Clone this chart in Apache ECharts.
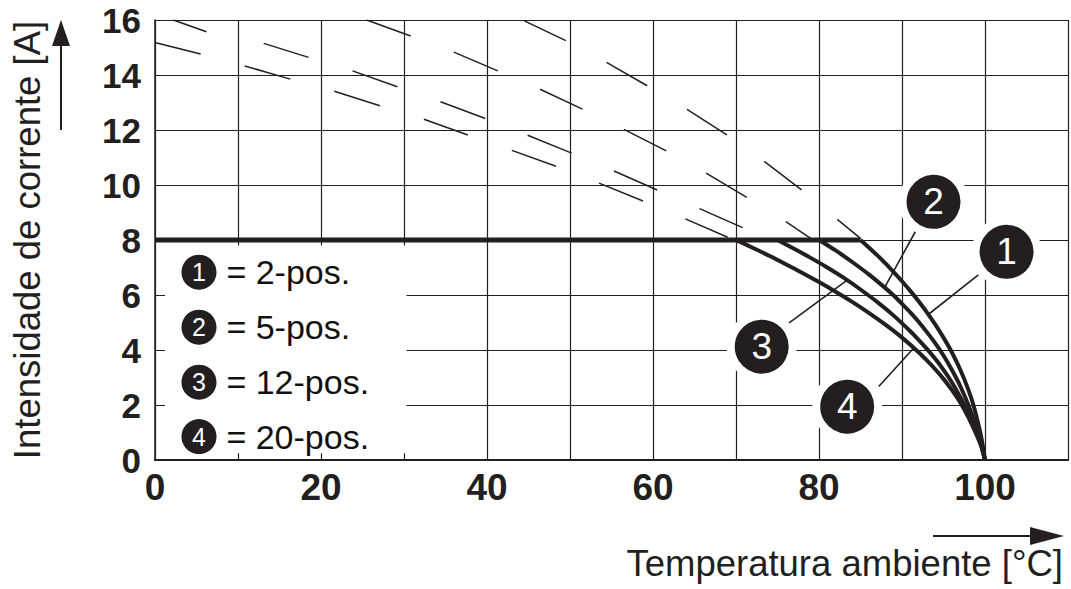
<!DOCTYPE html>
<html><head><meta charset="utf-8">
<script src="https://cdn.jsdelivr.net/npm/echarts@6/dist/echarts.min.js"></script>
<style>html,body{margin:0;padding:0;background:#fff}#c{width:1071px;height:589px}</style>
</head><body><div id="c"></div>
<script>
// ---- data ----
const xTickLabels = [0, 20, 40, 60, 80, 100];
const yTickLabels = [0, 2, 4, 6, 8, 10, 12, 14, 16];
const flatLine = [[0, 8], [85, 8]];
const curve2pos = [[85,8],[86,7.73],[87,7.45],[88,7.15],[89,6.83],[90,6.5],[91,6.15],[92,5.77],[93,5.37],[94,4.93],[95,4.45],[96,3.92],[97,3.3],[98,2.55],[98.6,2.0],[99.2,1.3],[99.6,0.75],[100,0]];
const curve5pos = [[80,8],[82,7.62],[84,7.2],[86,6.75],[88,6.25],[89,5.98],[90,5.68],[91,5.37],[92,5.03],[93,4.65],[94,4.25],[95,3.8],[96,3.28],[97,2.7],[98,2.0],[98.7,1.4],[99.3,0.8],[100,0]];
const curve12pos = [[75,8],[77,7.68],[79,7.35],[81,7.0],[83,6.62],[85,6.2],[87,5.75],[89,5.25],[91,4.68],[92,4.37],[93,4.04],[94,3.68],[95,3.28],[96,2.83],[97,2.3],[98,1.7],[99,1.0],[99.6,0.5],[100,0]];
const curve20pos = [[70,8],[72,7.72],[74,7.43],[76,7.12],[78,6.8],[80,6.47],[82,6.12],[84,5.75],[86,5.35],[88,4.92],[90,4.45],[92,3.92],[93,3.62],[94,3.3],[95,2.95],[96,2.55],[97,2.1],[98,1.55],[99,0.9],[99.6,0.45],[100,0]];
const hatchSegments = [
  [2.2,16.0,6.2,15.57],[0.1,15.17,5.5,14.76],[13.1,15.15,18.5,14.64],[10.8,14.33,16.3,13.85],
  [25.5,16.0,30.8,15.42],[23.8,14.15,29.2,13.57],[21.6,13.41,27.1,12.88],[36.0,14.83,41.3,14.15],
  [34.4,13.03,39.8,12.42],[32.4,12.39,37.7,11.82],[44.5,15.97,49.5,15.25],[54.4,14.46,59.3,13.61],
  [46.4,13.48,51.5,12.76],[44.9,11.81,50.2,11.16],[43.0,11.26,48.3,10.68],[64.1,12.75,68.9,11.82],
  [56.5,12.02,61.6,11.24],[55.3,10.51,60.5,9.82],[53.5,10.07,58.8,9.42],[73.4,10.86,77.9,9.82],
  [66.4,10.43,71.3,9.55],[65.6,9.14,70.8,8.45],[63.9,8.77,69.0,8.1],[76.0,8.67,79.0,8.06],[82.2,8.75,85.0,8.06]
];
const calloutNumbers = ['1', '2', '3', '4'];
const calloutCircles = [[102.6, 7.57], [93.8, 9.39], [73.1, 4.12], [83.4, 1.94]];
const calloutPointers = [
  [[99.2, 6.73], [93.2, 5.3]],
  [[91.6, 8.30], [87.9, 6.27]],
  [[76.4, 4.99], [83.4, 6.54]],
  [[87.2, 2.67], [91.5, 4.1]]
];
const legendLabels = ['= 2-pos.', '= 5-pos.', '= 12-pos.', '= 20-pos.'];
const legendCircleY = [6.83, 4.83, 2.83, 0.85];
const legendBox = [[1.2, 0.25], [30.3, 7.8]];
const xTitle = 'Temperatura ambiente [°C]';
const yTitle = 'Intensidade de corrente [A]';

// ---- chart ----
const INK = '#231f20';
const FONT = '"Liberation Sans", Arial, Helvetica, sans-serif';
const chart = echarts.init(document.getElementById('c'), null, {renderer: 'svg'});

const curveSeries = (name, data) => ({
  name, type: 'line', data, symbol: 'none', smooth: 0.25,
  lineStyle: {color: INK, width: 4}, z: 4, silent: true
});

chart.setOption({
  animation: false,
  backgroundColor: '#fff',
  grid: {left: 155, right: 0, top: 20, bottom: 129},
  xAxis: {
    type: 'value', min: 0, max: 110, interval: 10,
    axisLine: {show: true, lineStyle: {color: INK, width: 2}},
    axisTick: {show: false},
    splitLine: {show: true, lineStyle: {color: INK, width: 1.2}},
    axisLabel: {
      formatter: v => xTickLabels.includes(v) ? String(v) : '',
      color: INK, fontSize: 37, fontWeight: 'bold', fontFamily: FONT, margin: 9
    }
  },
  yAxis: {
    type: 'value', min: 0, max: 16, interval: 2,
    axisLine: {show: true, lineStyle: {color: INK, width: 1.5}},
    axisTick: {show: false},
    splitLine: {show: true, lineStyle: {color: INK, width: 1.2}},
    axisLabel: {
      formatter: v => yTickLabels.includes(v) ? String(v) : '',
      color: INK, fontSize: 35, fontWeight: 'bold', fontFamily: FONT, margin: 14
    }
  },
  series: [
    {
      name: 'hatch', type: 'lines', coordinateSystem: 'cartesian2d', silent: true, z: 2,
      lineStyle: {color: INK, width: 1.5, opacity: 1},
      data: hatchSegments.map(s => ({coords: [[s[0], s[1]], [s[2], s[3]]]}))
    },
    {
      name: 'limit', type: 'line', data: flatLine, symbol: 'none', silent: true, z: 4,
      lineStyle: {color: INK, width: 5},
      markArea: {
        silent: true, itemStyle: {color: '#fff', opacity: 1},
        data: [[{coord: legendBox[0]}, {coord: legendBox[1]}]]
      }
    },
    curveSeries('2-pos.', curve2pos),
    curveSeries('5-pos.', curve5pos),
    curveSeries('12-pos.', curve12pos),
    curveSeries('20-pos.', curve20pos),
    {
      name: 'pointers', type: 'lines', coordinateSystem: 'cartesian2d', silent: true, z: 5,
      lineStyle: {color: INK, width: 1.6, opacity: 1},
      data: calloutPointers.map(c => ({coords: c}))
    },
    {
      name: 'callouts', type: 'scatter', silent: true, z: 6,
      data: calloutCircles.map((p, i) => [p[0], p[1], calloutNumbers[i]]),
      symbol: 'circle', symbolSize: 62,
      itemStyle: {color: INK, borderColor: '#fff', borderWidth: 8, opacity: 1},
      label: {show: true, position: 'inside', formatter: p => p.data[2],
        color: '#fff', fontSize: 37, fontFamily: FONT}
    },
    {
      name: 'legendCircles', type: 'scatter', silent: true, z: 6,
      data: legendCircleY.map((y, i) => [5.3, y, calloutNumbers[i]]),
      symbol: 'circle', symbolSize: 35,
      itemStyle: {color: INK, opacity: 1},
      label: {show: true, position: 'inside', formatter: p => p.data[2],
        color: '#fff', fontSize: 25, fontFamily: FONT}
    },
    {
      name: 'legendTexts', type: 'scatter', silent: true, z: 6,
      data: legendCircleY.map((y, i) => [8.6, y, legendLabels[i]]),
      symbol: 'circle', symbolSize: 0, itemStyle: {color: INK, opacity: 1},
      label: {show: true, position: 'right', distance: 0, formatter: p => p.data[2],
        color: '#111', opacity: 1, fontSize: 34, fontFamily: FONT}
    }
  ],
  graphic: [
    {type: 'line', shape: {x1: 61, y1: 130, x2: 61, y2: 40}, style: {stroke: INK, lineWidth: 2}},
    {type: 'polygon', shape: {points: [[61, 20], [52, 46], [70, 46]]}, style: {fill: INK}},
    {type: 'line', shape: {x1: 933, y1: 536, x2: 1040, y2: 536}, style: {stroke: INK, lineWidth: 2}},
    {type: 'polygon', shape: {points: [[1064, 536], [1030, 527], [1030, 545]]}, style: {fill: INK}},
    {type: 'text', x: 1063, y: 563, style: {text: xTitle, fill: INK, font: '36.5px ' + FONT, align: 'right', verticalAlign: 'middle'}},
    {type: 'text', x: 27, y: 240, rotation: Math.PI / 2, style: {text: yTitle, fill: INK, font: '36.5px ' + FONT, align: 'center', verticalAlign: 'middle'}}
  ]
});
</script></body></html>
